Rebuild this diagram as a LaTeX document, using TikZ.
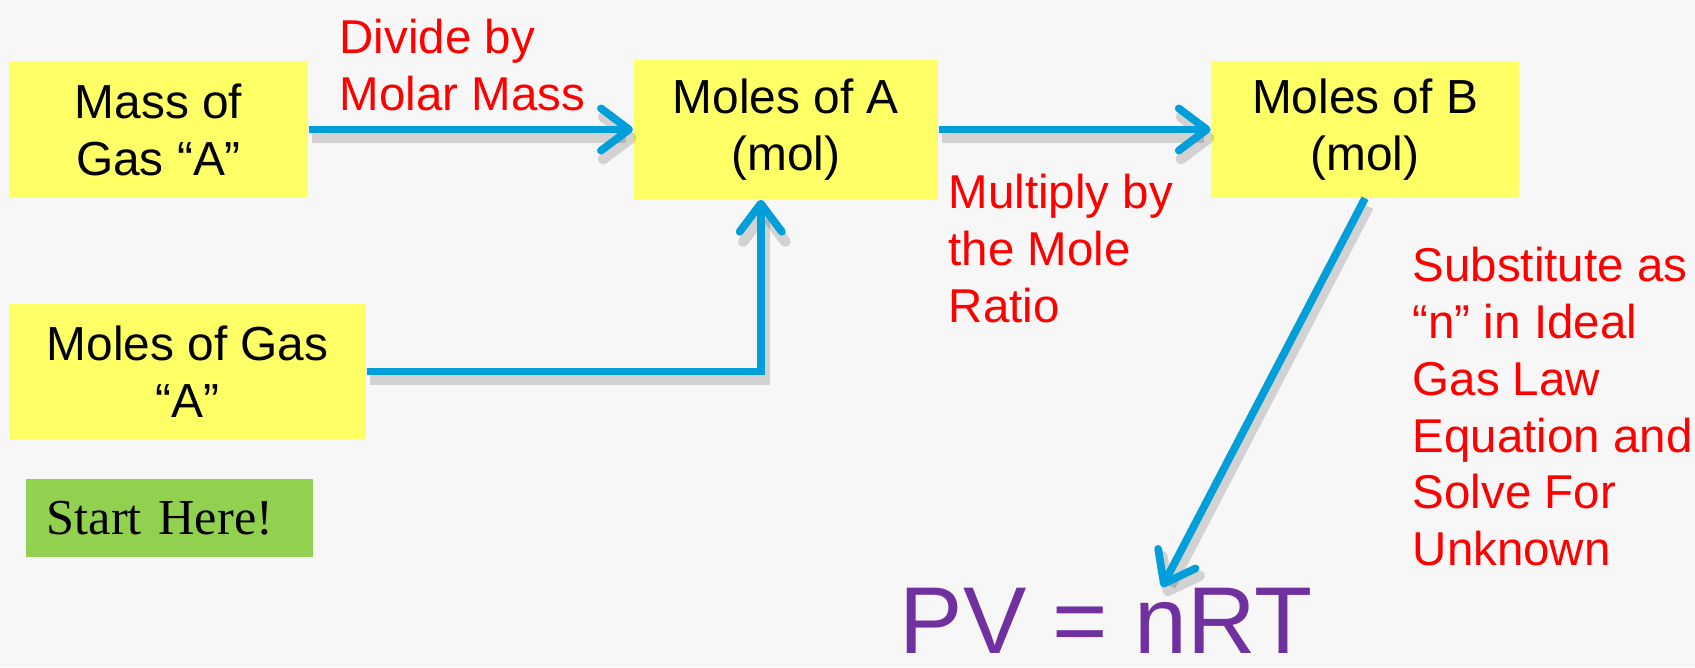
\documentclass[tikz,border=0pt]{standalone}
\usepackage{fontspec}
\setmainfont{Liberation Sans}
\newfontfamily\serifa{Liberation Serif}
\usepackage{xcolor}
\usetikzlibrary{positioning,arrows.meta}
\definecolor{amarillo}{HTML}{FFFF66}
\definecolor{verde}{HTML}{92D050}
\definecolor{azul}{HTML}{009FDA}
\definecolor{morado}{HTML}{7030A0}
\definecolor{fondo}{HTML}{F7F7F7}

\begin{document}
\begin{tikzpicture}[x=0.01cm, y=-0.01cm,
  caja/.style={fill=amarillo, minimum height=1.36cm, align=center, inner sep=0pt, font=\fontsize{13.6}{16.2}\selectfont},
  nota/.style={anchor=north west, align=left, inner sep=0pt, text=red, font=\fontsize{13.5}{16.2}\selectfont},
  flecha/.style={draw=azul, line width=2.2pt, -{Straight Barb[length=8pt, width=12pt, round]},
    preaction={draw=black, opacity=0.15, line width=3pt, transform canvas={shift={(1pt,-2.4pt)}}}}]
\fill[fondo] (0,0) rectangle (1695,667);
\useasboundingbox (0,0) rectangle (1695,667);
\node[caja, minimum width=2.99cm] (masa) at (158.5,129.5) {Mass of\\Gas “A”};
\node[caja, minimum width=3.04cm, minimum height=1.39cm, right=3.24cm of masa] (molesA) {Moles of A\\(mol)};
\node[caja, minimum width=3.07cm, right=2.72cm of molesA] (molesB) {Moles of B\\(mol)};
\node[caja, minimum width=3.57cm, minimum height=1.35cm] (gasA) at (187.5,371.5) {Moles of Gas\\“A”};
\node[fill=verde, inner xsep=2.1mm, inner ysep=0pt, text width=2.45cm, minimum height=0.78cm, align=left,
  font=\serifa\fontsize{14.3}{16}\selectfont] (inicio) at (169.5,518) {Start Here!};
\node[nota] (dividir) at (339,18) {Divide by\\Molar Mass};
\node[nota] (multiplicar) at (948,173) {Multiply by\\the Mole\\Ratio};
\node[nota] (sustituir) at (1412,246) {Substitute as\\“n” in Ideal\\Gas Law\\Equation and\\Solve For\\Unknown};
\node[text=morado, anchor=north, inner sep=0pt, font=\fontsize{27}{30}\selectfont] (pv) at (1106,587) {PV = nRT};
\draw[flecha] (masa) -- (molesA);
\draw[flecha] (molesA) -- (molesB);
\draw[flecha] (gasA.east) -| ([xshift=-2.5mm]molesA.south);
\draw[flecha] (molesB.south) -- ([xshift=5.6mm]pv.north);
\end{tikzpicture}
\end{document}
